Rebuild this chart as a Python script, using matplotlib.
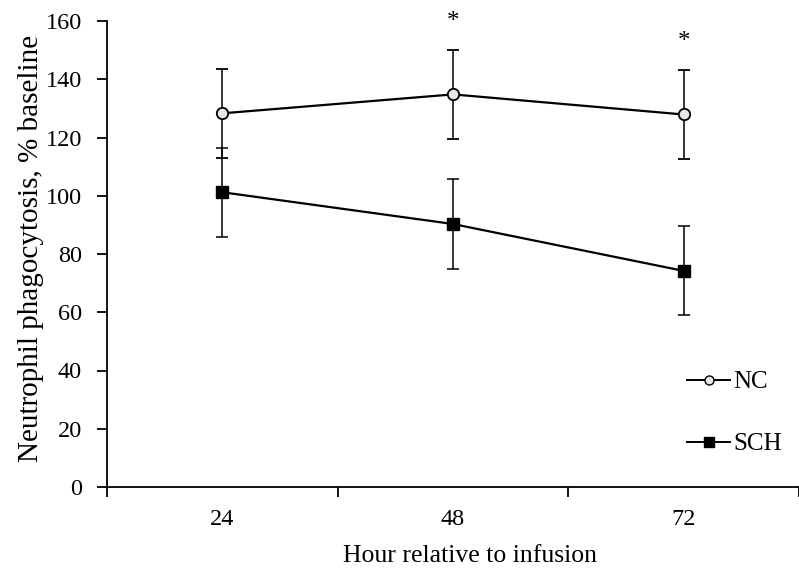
import matplotlib.pyplot as plt
from matplotlib.lines import Line2D

plt.rcParams['font.family'] = ['Liberation Serif', 'DejaVu Serif']

hours = ["24", "48", "72"]
nc = [128.3, 134.8, 127.9]
nc_err = [15.3, 15.2, 15.3]
sch = [101.2, 90.3, 74.2]
sch_err = [15.2, 15.3, 15.3]
signif = ["", "*", "*"]

x = list(range(len(hours)))

fig = plt.figure(figsize=(7.99, 5.80), dpi=100)
ax = fig.add_axes([107 / 799, 93 / 580, 1 - 107 / 799, 466 / 580])

ax.errorbar(x, nc, yerr=nc_err, color='black', lw=1.6, marker='o', ms=8.2,
            mfc='#e8e8e8', mec='black', mew=1.3, ecolor='black', elinewidth=1.1,
            capsize=4.5, capthick=1.1, zorder=3)
ax.errorbar(x, sch, yerr=sch_err, color='black', lw=1.6, marker='s', ms=8.5,
            mfc='black', mec='black', ecolor='black', elinewidth=1.1,
            capsize=4.5, capthick=1.1, zorder=3)

# significance marks above the NC error bars
for xi, v, e, s in zip(x, nc, nc_err, signif):
    if s:
        ax.text(xi, v + e + 9.7, s, ha='center', va='center', fontsize=18)

ax.set_xlim(-0.5, 2.483)
ax.set_ylim(0, 160)
ax.set_yticks(range(0, 161, 20))
ax.set_xticks([-0.5, 0.5, 1.5, 2.5])
ax.set_xticklabels([])
ax.set_xticks(x, minor=True)
ax.set_xticklabels(hours, minor=True)
ax.tick_params(axis='x', which='minor', length=0, pad=16, labelsize=17.5)
ax.tick_params(axis='x', which='major', direction='out', length=7, width=1.3)
ax.tick_params(axis='y', direction='out', length=7, width=1.3, pad=11, labelsize=17.5)

for side in ['top', 'right']:
    ax.spines[side].set_visible(False)
for side in ['left', 'bottom']:
    ax.spines[side].set_linewidth(1.3)

ax.set_xlabel("Hour relative to infusion", fontsize=18.5)
ax.xaxis.set_label_coords(0.5246, -0.1245)
ax.set_ylabel("Neutrophil phagocytosis, % baseline", fontsize=21)
ax.yaxis.set_label_coords(-0.091, 0.513)

handles = [
    Line2D([], [], color='black', lw=1.4, marker='o', ms=6.5, mfc='#e8e8e8', mec='black'),
    Line2D([], [], color='black', lw=1.4, marker='s', ms=6.5, mfc='black', mec='black'),
]
ax.legend(handles, ["NC", "SCH"], loc='upper left', bbox_to_anchor=(687 / 799, 1 - 371 / 580),
          bbox_transform=fig.transFigure, frameon=False, fontsize=18, handlelength=1.72,
          handletextpad=0.12, labelspacing=1.58, borderpad=0, borderaxespad=0)

fig.savefig("out.png", dpi=100)
